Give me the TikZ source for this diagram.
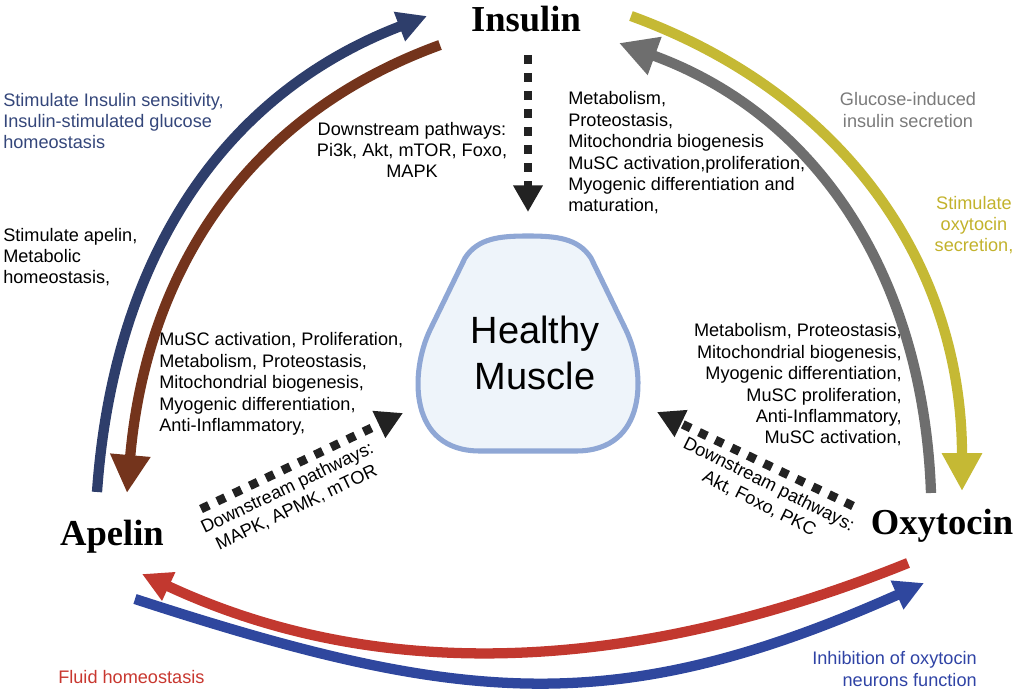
\documentclass[tikz,border=0pt]{standalone}
\usepackage{fontspec}
\setmainfont{Liberation Sans}
\newfontfamily\hormonefont{Liberation Serif}
\usetikzlibrary{arrows.meta}

\definecolor{navyarr}{HTML}{2E3E6B}
\definecolor{brownarr}{HTML}{74341C}
\definecolor{grayarr}{HTML}{6E6E6E}
\definecolor{olivearr}{HTML}{C5B934}
\definecolor{redarr}{HTML}{C2382F}
\definecolor{bluearr}{HTML}{2F479E}
\definecolor{navytxt}{HTML}{34467A}
\definecolor{graytxt}{HTML}{7A7A7A}
\definecolor{olivetxt}{HTML}{C2B22C}
\definecolor{redtxt}{HTML}{C8372F}
\definecolor{bluetxt}{HTML}{2F43A5}
\definecolor{sigblack}{HTML}{222222}
\definecolor{musclerim}{HTML}{8FA7D5}
\definecolor{musclefill}{HTML}{EEF4FA}

\begin{document}
\begin{tikzpicture}[x=0.025cm, y=-0.025cm,
    txt/.style={font=\fontsize{12.9}{15.2}\selectfont, inner sep=0pt},
    hormone/.style={font=\hormonefont\bfseries\fontsize{26}{30}\selectfont, inner sep=0pt, anchor=base},
    route/.style={line width=7.3pt, -{Triangle[length=21pt, width=21pt]}},
    bigroute/.style={line width=7.3pt, -{Triangle[length=27pt, width=27pt]}},
    signal/.style={draw=sigblack, line width=6.2pt, dash pattern=on 6.2pt off 6.6pt, -{Triangle[length=19pt, width=20pt]}}
  ]
    \useasboundingbox (0,0) rectangle (1020,694);

    % --- Ormoni ---
    \node[hormone] (insulin) at (526,32) {Insulin};
    \node[hormone] (apelin) at (112,545) {Apelin};
    \node[hormone] (oxytocin) at (942,535) {Oxytocin};

    % --- Muscolo sano ---
    \draw[line width=3.6pt, draw=musclerim, fill=musclefill] (528,236) .. controls (500,236) and (478,238) .. (465,258) -- (430,330) .. controls (410,372) and (408,451) .. (480,451) -- (576,451) .. controls (648,451) and (646,372) .. (626,330) -- (591,258) .. controls (578,238) and (556,236) .. (528,236) -- cycle;
    \node[font=\fontsize{27}{33.3}\selectfont, align=center, inner sep=0pt] (muscle) at (535,353) {Healthy\\Muscle};

    % --- Frecce tra ormoni ---
    \coordinate (navyS) at (97,492);   \coordinate (navyE) at (427,16);
    \coordinate (brownS) at (440,45);  \coordinate (brownE) at (127,493);
    \coordinate (grayS) at (931,493);  \coordinate (grayE) at (619,43);
    \coordinate (oliveS) at (631,16);  \coordinate (oliveE) at (962,491);
    \coordinate (redS) at (908,563);   \coordinate (redE) at (142,574);
    \coordinate (blueS) at (135,599);  \coordinate (blueE) at (924,583);
    \draw[route, navyarr] (navyS) to[out=86, in=201] (navyE);
    \draw[bigroute, brownarr] (brownS) to[out=200, in=85] (brownE);
    \draw[bigroute, grayarr] (grayS) to[out=92, in=340] (grayE);
    \draw[bigroute, olivearr] (oliveS) to[out=-20, in=90] (oliveE);
    \draw[route, redarr] (redS) to[out=202, in=335, looseness=0.92] (redE);
    \draw[route, bluearr] (blueS) to[out=-18, in=204, looseness=1.1] (blueE);

    % --- Vie a valle verso il muscolo ---
    \coordinate (insS) at (528,55);    \coordinate (insE) at (528,212);
    \coordinate (apeS) at (201,509);   \coordinate (apeE) at (403,413);
    \coordinate (oxyS) at (853,506);   \coordinate (oxyE) at (657,412);
    \draw[signal] (insS) -- (insE);
    \draw[signal] (apeS) -- (apeE);
    \draw[signal] (oxyS) -- (oxyE);

    % Etichette
    \node[txt, anchor=west, align=left, navytxt] (sensitivity) at (3,121) {Stimulate Insulin sensitivity,\\Insulin-stimulated glucose\\homeostasis};
    \node[txt, anchor=west, align=left] (apelinEffect) at (3,257) {Stimulate apelin,\\Metabolic\\homeostasis,};
    \node[txt, align=center] (insulinPath) at (412,150) {Downstream pathways:\\Pi3k, Akt, mTOR, Foxo,\\MAPK};
    \node[txt, anchor=west, align=left] (insulinEffect) at (568,153) {Metabolism,\\Proteostasis,\\Mitochondria biogenesis\\MuSC activation,proliferation,\\Myogenic differentiation and\\maturation,};
    \node[txt, align=center, graytxt] (glucose) at (908,110) {Glucose-induced\\insulin secretion};
    \node[txt, align=center, olivetxt] (oxySecretion) at (974,225) {Stimulate\\oxytocin\\secretion,};
    \node[txt, anchor=west, align=left] (apelinMuscle) at (159,384) {MuSC activation, Proliferation,\\Metabolism, Proteostasis,\\Mitochondrial biogenesis,\\Myogenic differentiation,\\Anti-Inflammatory,};
    \node[txt, anchor=east, align=right] (oxyMuscle) at (902,385) {Metabolism, Proteostasis,\\Mitochondrial biogenesis,\\Myogenic differentiation,\\MuSC proliferation,\\Anti-Inflammatory,\\MuSC activation,};
    \node[txt, align=center, rotate=25.5] (apelinPath) at (292,498) {Downstream pathways:\\MAPK, APMK, mTOR};
    \node[txt, align=center, rotate=-26.5] (oxyPath) at (764,494) {Downstream pathways:\\Akt, Foxo, PKC};
    \node[txt, anchor=west, redtxt] (fluid) at (58,677) {Fluid homeostasis};
    \node[txt, anchor=east, align=right, bluetxt] (inhibition) at (977,669) {Inhibition of oxytocin\\neurons function};
  \end{tikzpicture}
\end{document}
